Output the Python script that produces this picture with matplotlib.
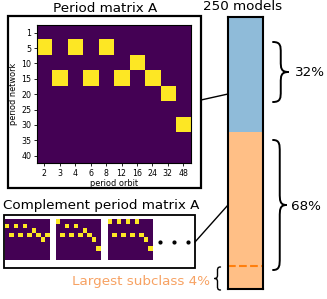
import numpy as np
import matplotlib.pyplot as plt
from matplotlib.patches import Rectangle, PathPatch
from matplotlib.path import Path

# axis labels of the period matrix
period_orbit = [2, 3, 4, 6, 8, 12, 16, 24, 32, 48]
period_network = [1, 5, 10, 15, 20, 25, 30, 35, 40]

# yellow cells as (period network, period orbit)
main_hits = [(5, 2), (5, 4), (5, 8), (10, 16), (15, 3), (15, 6), (15, 12),
             (15, 24), (20, 32), (30, 48)]
comp_hits_1 = [(5, 2), (5, 4), (5, 8), (10, 16), (15, 3), (15, 6), (15, 12),
               (15, 24), (15, 48), (20, 32)]
comp_hits_2 = [(1, 2), (5, 4), (5, 8), (10, 16), (15, 3), (15, 6), (15, 12),
               (15, 24), (20, 32), (30, 48)]
comp_hits_3 = [(1, 2), (1, 4), (1, 8), (1, 16), (15, 3), (15, 6), (15, 12),
               (15, 24), (20, 32), (30, 48)]

n_models = 250
# bar as drawn in the picture (bottom orange, top blue) - not to scale with the labels
bar_parts = [0.58, 0.42]
subclass_pos = 0.086
share_labels = ['32%', '68%']
subclass_label = 'Largest subclass 4%'

W, H = 327, 299
blue = '#8fbbd9'
orange = '#ffbf86'


def to_matrix(hits):
    m = np.zeros((len(period_network), len(period_orbit)))
    for r, c in hits:
        m[period_network.index(r), period_orbit.index(c)] = 1
    return m


def px_axes(fig, x0, y0, x1, y1):
    # rect given in pixels from the top-left corner
    return fig.add_axes([x0 / W, 1 - y1 / H, (x1 - x0) / W, (y1 - y0) / H])


def brace(ax, xe, y0, y1, xt, lw=1.4):
    # curly brace with ends at xe and tip at xt (xt < xe gives a '{')
    xm = (xe + xt) / 2
    ym = (y0 + y1) / 2
    r = min((y1 - y0) * 0.18, 12)
    verts = [(xe, y0), (xm, y0), (xm, y0 + r * 0.4), (xm, y0 + r),
             (xm, ym - r),
             (xm, ym - r * 0.4), (xm, ym), (xt, ym),
             (xm, ym), (xm, ym + r * 0.4), (xm, ym + r),
             (xm, y1 - r),
             (xm, y1 - r * 0.4), (xm, y1), (xe, y1)]
    codes = [Path.MOVETO, Path.CURVE4, Path.CURVE4, Path.CURVE4,
             Path.LINETO,
             Path.CURVE4, Path.CURVE4, Path.CURVE4,
             Path.CURVE4, Path.CURVE4, Path.CURVE4,
             Path.LINETO,
             Path.CURVE4, Path.CURVE4, Path.CURVE4]
    ax.add_patch(PathPatch(Path(verts, codes), fc='none', ec='black', lw=lw,
                           capstyle='round'))


fig = plt.figure(figsize=(W / 100, H / 100), dpi=100)

# main period matrix
ax = px_axes(fig, 36.7, 25, 191, 163.3)
ax.imshow(to_matrix(main_hits), cmap='viridis', aspect='auto', interpolation='nearest')
ax.set_xticks(range(len(period_orbit)))
ax.set_xticklabels(period_orbit)
ax.set_yticks(range(len(period_network)))
ax.set_yticklabels(period_network)
ax.tick_params(labelsize=5.7, length=2.5, width=0.6, pad=1.5)
ax.set_xlabel('period orbit', fontsize=5.9, labelpad=1)
ax.set_ylabel('period network', fontsize=5.9, labelpad=2.5)

# complement matrices
for i, hits in enumerate([comp_hits_1, comp_hits_2, comp_hits_3]):
    x0 = 4.5 + i * 51.7
    sax = px_axes(fig, x0, 219.3, x0 + 45, 260)
    sax.imshow(to_matrix(hits), cmap='viridis', aspect='auto', interpolation='nearest')
    sax.set_xticks([])
    sax.set_yticks([])
    for s in sax.spines.values():
        s.set_visible(False)

# 250 model bar
bx = px_axes(fig, 228, 17.3, 263, 289.3)
bx.bar(0, bar_parts[0], width=1, color=orange)
bx.bar(0, bar_parts[1], bottom=bar_parts[0], width=1, color=blue)
bx.axhline(subclass_pos, color='tab:orange', ls='--', lw=1.5)
bx.set_xlim(-0.5, 0.5)
bx.set_ylim(0, 1)
bx.set_xticks([])
bx.set_yticks([])
for s in bx.spines.values():
    s.set_linewidth(1.5)

# overlay for frames, lines, braces and texts
ov = fig.add_axes([0, 0, 1, 1], zorder=5)
ov.set_xlim(0, W)
ov.set_ylim(H, 0)
ov.axis('off')
ov.patch.set_alpha(0)

ov.add_patch(Rectangle((8.3, 16), 192.5, 172, fill=False, ec='black', lw=1.6))
ov.add_patch(Rectangle((4, 215), 191, 53, fill=False, ec='black', lw=1.3))
ov.plot([201, 228], [100, 94], color='black', lw=1)
ov.plot([195, 228], [242, 205], color='black', lw=1)
ov.plot([160, 173.5, 187.5], [241.7, 241.7, 241.7], 'o', color='black', ms=2)

ov.text(105.5, 8.3, 'Period matrix A', fontsize=9.7, ha='center', va='center')
ov.text(3, 205, 'Complement period matrix A', fontsize=9.7, ha='left', va='center')
ov.text(243, 6, f'{n_models} models', fontsize=9.7, ha='center', va='center')

brace(ov, 273, 42, 102, 288.5)
brace(ov, 273, 140, 270, 286.5)
brace(ov, 220.5, 267, 290, 214.5, lw=1.0)
ov.text(294.5, 73, share_labels[0], fontsize=9.7, ha='left', va='center')
ov.text(291.5, 207, share_labels[1], fontsize=9.7, ha='left', va='center')
ov.text(210, 281.5, subclass_label, fontsize=9.7, ha='right', va='center', color='#f7a263')

fig.savefig('out.png', dpi=100)
